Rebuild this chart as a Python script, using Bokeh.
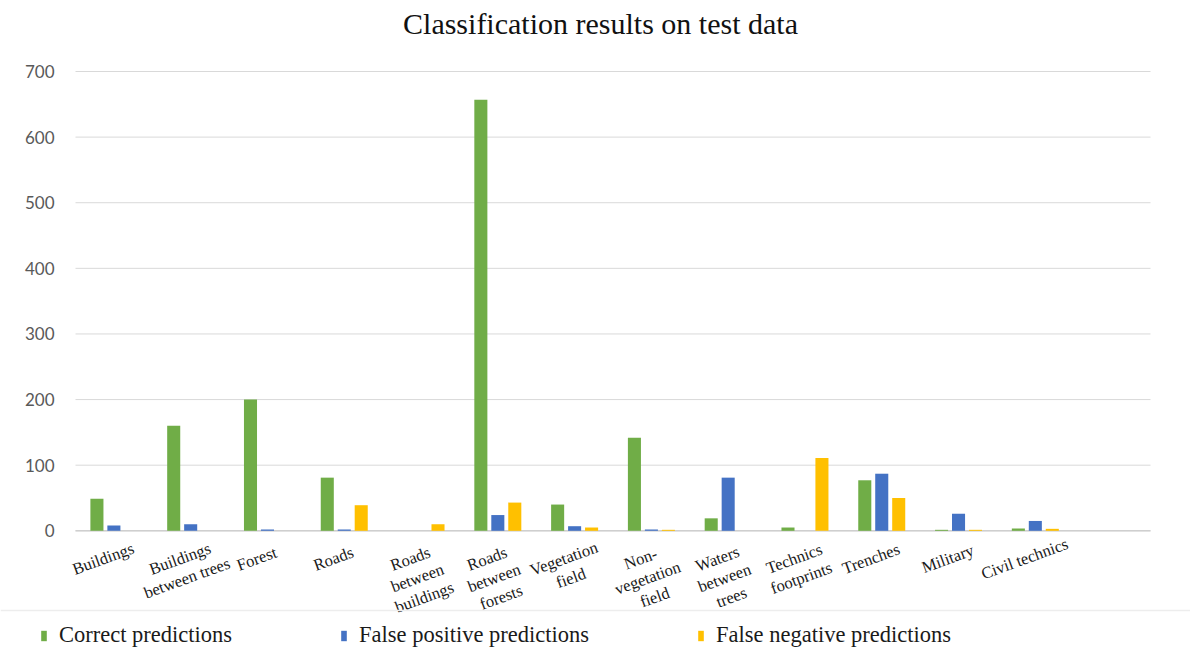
from bokeh.plotting import figure
from bokeh.models import Legend, LegendItem, ColumnDataSource, Range1d
from bokeh.core.properties import value
from bokeh.transform import dodge
from bokeh.embed import file_html
from bokeh.resources import INLINE

title_text = "Classification results on test data"
categories = ["Buildings", "Buildings\nbetween trees", "Forest", "Roads",
              "Roads\nbetween\nbuildings", "Roads\nbetween\nforests", "Vegetation\nfield",
              "Non-\nvegetation\nfield", "Waters\nbetween\ntrees", "Technics\nfootprints",
              "Trenches", "Military", "Civil technics"]
correct = [49, 160, 200, 81, 0, 657, 40, 142, 19, 5, 77, 1.5, 3.5]
false_pos = [8, 10, 2, 2, 0, 24, 7, 2, 81, 0, 87, 26, 15]
false_neg = [0, 0, 0, 39, 10, 43, 5, 1.5, 0, 111, 50, 1.5, 3]
series_names = ["Correct predictions", "False positive predictions", "False negative predictions"]
y_ticks = [0, 100, 200, 300, 400, 500, 600, 700]

GREEN = "#70AD47"
BLUE = "#4472C4"
YELLOW = "#FFC000"

# ---- page geometry (pixels)
W, H = 1190, 655
PLOT_L, PLOT_R = 75, 1150          # horizontal extent of the value area
PLOT_TOP, ZERO_Y = 71, 530.3       # pixel rows of 700 and 0
X0, X1 = -0.5, 13.5                # 14 category slots (last one empty)
YMAX = 700
PXU_X = (PLOT_R - PLOT_L) / (X1 - X0)
PXU_Y = (ZERO_Y - PLOT_TOP) / YMAX

x_range = Range1d(X0 - PLOT_L / PXU_X, X1 + (W - PLOT_R) / PXU_X)
y_range = Range1d(-(H - ZERO_Y) / PXU_Y, ZERO_Y / PXU_Y)

def px_x(px):
    return X0 + (px - PLOT_L) / PXU_X

def px_y(py):
    return (ZERO_Y - py) / PXU_Y

idx = list(range(len(categories)))
src = ColumnDataSource(dict(x=idx, c=correct, fp=false_pos, fn=false_neg, t=categories))
tick_src = ColumnDataSource(dict(y=y_ticks, lab=[str(v) for v in y_ticks]))

p = figure(width=W, height=H, output_backend="svg", toolbar_location=None,
           x_range=x_range, y_range=y_range,
           min_border_left=0, min_border_right=0, min_border_top=0, min_border_bottom=0)
p.axis.visible = False
p.grid.visible = False
p.outline_line_color = None
p.background_fill_color = "white"
p.border_fill_color = "white"

# gridlines (value axis) and category baseline
p.segment(x0=X0, x1=X1, y0="y", y1="y", source=tick_src, line_color="#D9D9D9", line_width=1)
p.segment(x0=[X0], x1=[X1], y0=[0], y1=[0], line_color="#CFCFCF", line_width=1.5)

# value-axis labels
p.text(x=X0, y="y", text="lab", source=tick_src, x_offset=-21,
       text_align="right", text_baseline="middle",
       text_font=value("Lato"), text_font_size="17px", text_color="#595959")

# bars
bw = 0.17
r1 = p.vbar(x=dodge("x", -0.221, range=p.x_range), top="c", width=bw, bottom=0,
            source=src, fill_color=GREEN, line_color=None)
r2 = p.vbar(x=dodge("x", 0.0, range=p.x_range), top="fp", width=bw, bottom=0,
            source=src, fill_color=BLUE, line_color=None)
r3 = p.vbar(x=dodge("x", 0.221, range=p.x_range), top="fn", width=bw, bottom=0,
            source=src, fill_color=YELLOW, line_color=None)

# category labels (rotated, multi-line)
p.text(x=dodge("x", -14 / PXU_X, range=p.x_range), y=px_y(ZERO_Y + 19), text="t", source=src,
       angle=0.35, anchor=value("top_center"), text_align="center",
       text_font=value("Liberation Serif"), text_font_size="16.5px",
       text_color="#1a1a1a", text_line_height=1.08)

# title
p.text(x=[px_x(600)], y=[px_y(23)], text=[title_text], text_align="center",
       text_baseline="middle", text_font=value("Liberation Serif"),
       text_font_size="30px", text_color="#111111")

# faint separator above the legend
p.segment(x0=[x_range.start], x1=[x_range.end], y0=[px_y(610)], y1=[px_y(610)],
          line_color="#EDEDED", line_width=1.5)

items = [LegendItem(label=n, renderers=[r]) for n, r in zip(series_names, [r1, r2, r3])]
lg = Legend(items=items, location=(40, 7), orientation="horizontal",
            padding=0, margin=0, spacing=108, border_line_color=None,
            background_fill_alpha=0, glyph_width=7, glyph_height=13,
            label_text_font="Liberation Serif", label_text_font_size="22.5px",
            label_text_color="#1a1a1a", label_standoff=12)
p.add_layout(lg, "center")

open("out.html", "w").write(file_html(p, INLINE))
